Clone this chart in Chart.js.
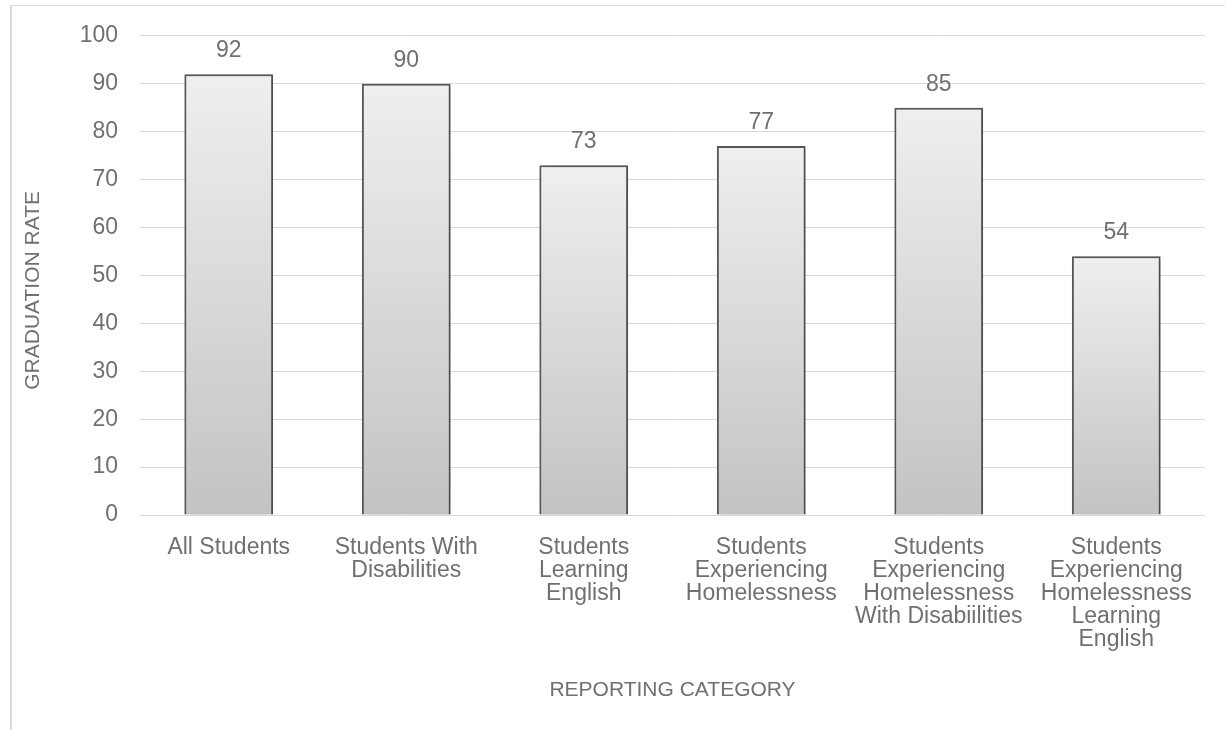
<!DOCTYPE html>
<html lang="en">
<head>
  <meta charset="UTF-8" />
  <title>Graduation Rate by Reporting Category</title>
  <script src="https://cdn.jsdelivr.net/npm/chart.js"></script>
  <style>
    body {
      margin: 0;
      background: #fff;
      font-family: "Liberation Sans", Arial, sans-serif;
    }
    .frame {
      position: absolute;
      left: 10px;
      top: 5px;
      width: 1230px;
      height: 740px;
      border-top: 1px solid #d9d9d9;
      border-left: 2px solid #d9d9d9;
    }
    .wrap {
      position: absolute;
      left: 0;
      top: 0;
      width: 1225px;
      height: 730px;
    }
  </style>
</head>
<body>

<div class="frame"></div>
<div class="wrap">
  <canvas id="gradChart"></canvas>
</div>

<script>
// chart data
const categories = [
  ['All Students'],
  ['Students With', 'Disabilities'],
  ['Students', 'Learning', 'English'],
  ['Students', 'Experiencing', 'Homelessness'],
  ['Students', 'Experiencing', 'Homelessness', 'With Disabiilities'],
  ['Students', 'Experiencing', 'Homelessness', 'Learning', 'English']
];
const gradRates = [92, 90, 73, 77, 85, 54];
const yTicks = [0, 10, 20, 30, 40, 50, 60, 70, 80, 90, 100];
const yTitle = 'GRADUATION RATE';
const xTitle = 'REPORTING CATEGORY';

const textGrey = '#707070';
const font = 'Liberation Sans, Arial, sans-serif';

// per-bar vertical gradient, light on top, darker at the base
function barFill(ctx) {
  const chart = ctx.chart;
  const yScale = chart.scales.y;
  if (!chart.chartArea || !yScale) return '#dcdcdc';
  const top = yScale.getPixelForValue(ctx.raw);
  const base = yScale.getPixelForValue(0);
  if (!isFinite(top) || !isFinite(base) || top === base) return '#dcdcdc';
  const g = chart.ctx.createLinearGradient(0, top, 0, base);
  g.addColorStop(0, '#efefef');
  g.addColorStop(1, '#c3c3c3');
  return g;
}

// soft shadow behind the bars, like the office chart
const barShadow = {
  id: 'barShadow',
  beforeDatasetsDraw(chart) {
    const ctx = chart.ctx;
    ctx.save();
    ctx.shadowColor = 'rgba(0,0,0,0.28)';
    ctx.shadowBlur = 4;
    ctx.shadowOffsetX = 1;
    ctx.shadowOffsetY = 1;
  },
  afterDatasetsDraw(chart) {
    chart.ctx.restore();
  }
};

const valueLabels = {
  id: 'valueLabels',
  afterDatasetsDraw(chart) {
    const ctx = chart.ctx;
    const meta = chart.getDatasetMeta(0);
    ctx.save();
    ctx.font = '23px ' + font;
    ctx.fillStyle = textGrey;
    ctx.textAlign = 'center';
    ctx.textBaseline = 'alphabetic';
    meta.data.forEach((bar, i) => {
      ctx.fillText(gradRates[i], bar.x, bar.y - 17);
    });
    ctx.restore();
  }
};

// vertical axis title sits a bit below the plot middle in the original
const yAxisTitle = {
  id: 'yAxisTitle',
  afterDraw(chart) {
    const ctx = chart.ctx;
    const area = chart.chartArea;
    ctx.save();
    ctx.translate(33, (area.top + area.bottom) / 2 + 15);
    ctx.rotate(-Math.PI / 2);
    ctx.font = '21px ' + font;
    ctx.fillStyle = textGrey;
    ctx.textAlign = 'center';
    ctx.textBaseline = 'middle';
    ctx.fillText(yTitle, 0, 0);
    ctx.restore();
  }
};

new Chart(document.getElementById('gradChart'), {
  type: 'bar',
  data: {
    labels: categories,
    datasets: [{
      data: gradRates,
      backgroundColor: barFill,
      borderColor: '#595959',
      borderWidth: 2,
      barPercentage: 0.5,
      categoryPercentage: 1.0
    }]
  },
  options: {
    responsive: true,
    maintainAspectRatio: false,
    animation: false,
    layout: { padding: { top: 34, right: 20, bottom: 0, left: 0 } },
    plugins: {
      legend: { display: false },
      tooltip: { enabled: false }
    },
    scales: {
      x: {
        grid: { display: false },
        border: { display: false },
        ticks: {
          color: textGrey,
          font: { family: font, size: 23, lineHeight: 1.0 },
          padding: 13,
          maxRotation: 0,
          autoSkip: false
        },
        title: {
          display: true,
          text: xTitle,
          color: textGrey,
          font: { family: font, size: 21, lineHeight: 1.2 },
          padding: { top: 0, bottom: 27 }
        },
        afterFit(scale) { scale.height = 215; }
      },
      y: {
        min: 0,
        max: 100,
        afterBuildTicks(scale) {
          scale.ticks = yTicks.map(v => ({ value: v }));
        },
        grid: { color: '#d9d9d9', lineWidth: 1, drawTicks: false },
        border: { display: false },
        ticks: {
          color: textGrey,
          font: { family: font, size: 23 },
          padding: 22
        },
        afterFit(scale) { scale.width = 140; }
      }
    }
  },
  plugins: [barShadow, valueLabels, yAxisTitle]
});
</script>

</body>
</html>
